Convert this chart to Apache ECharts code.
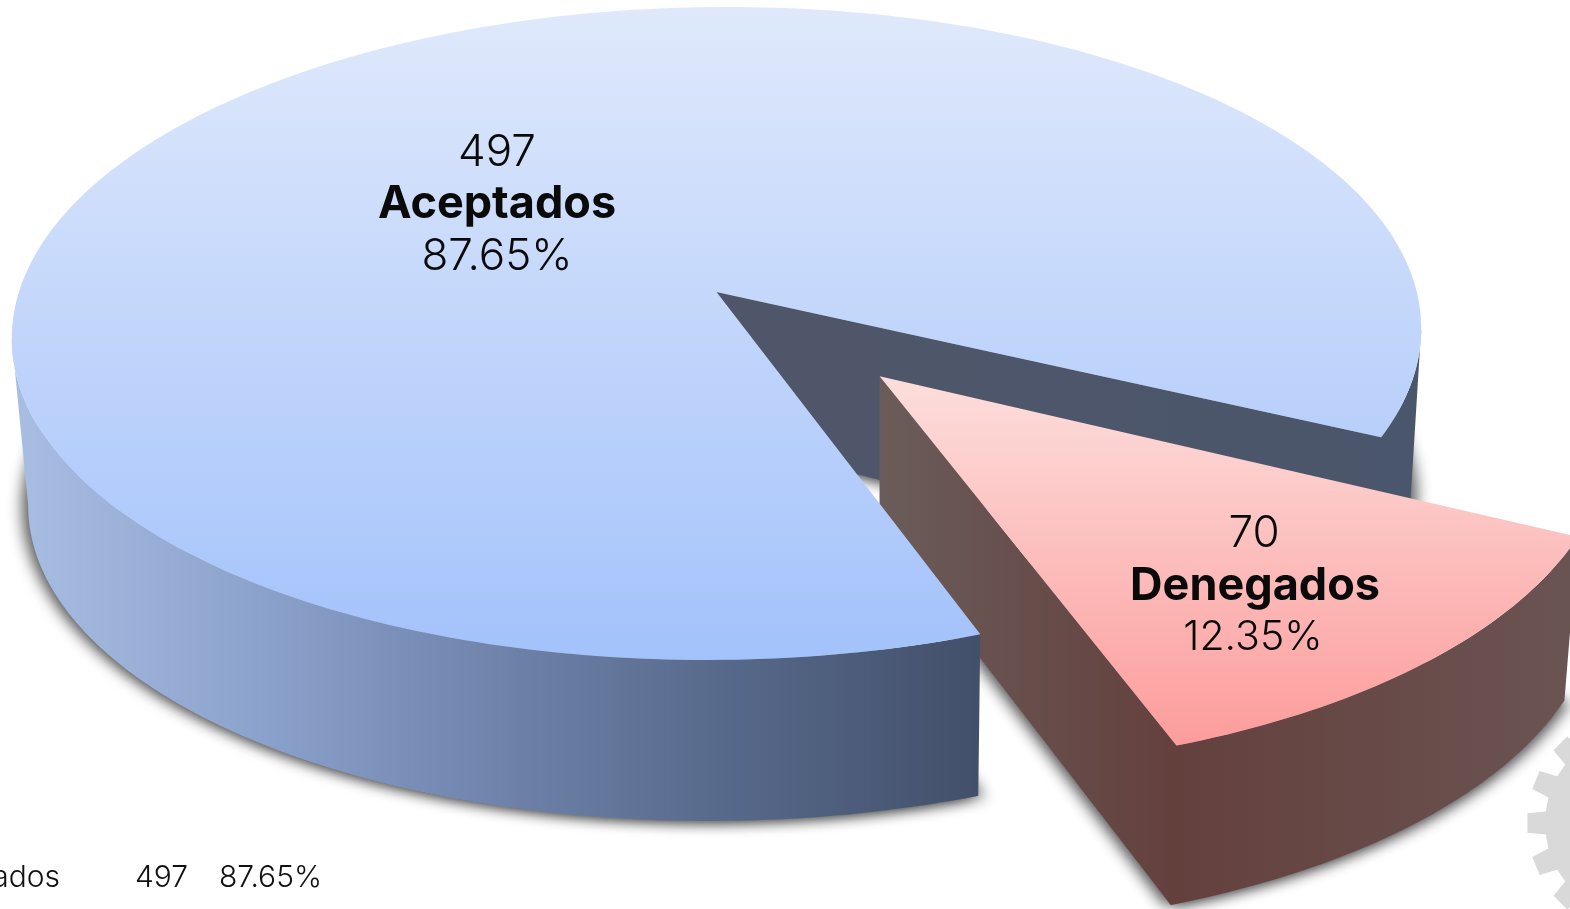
<!DOCTYPE html>
<html>
<head>
<meta charset="utf-8">
<style>
  html, body { margin: 0; padding: 0; background: #fff; overflow: hidden; }
  #chart { width: 1570px; height: 909px; }
</style>
</head>
<body>
<div id="chart"></div>
<script src="https://cdn.jsdelivr.net/npm/echarts@6/dist/echarts.min.js"></script>
<script>
const categories = ['Aceptados', 'Denegados']
const values = [497, 70]
const percents = ['87.65%', '12.35%']
const tableRow = ['Aceptados', '497', '87.65%']

const total = values.reduce((a, b) => a + b, 0)
const startAngle = 70.6 // degrees, clockwise from the right
const explode = [0, 0.34]
const tilt = [0.007, 0]
const tipLift = [20, 15]

// perspective of the tilted disc
const cx = 716.5, cy = 292
const persp = 0.127, sx = 699, sy = 321.2
const depth = 168, baseScale = 0.981, baseShift = 3
// where the rim turns back on screen, so the wall ends on the silhouette
const edgeAngle = Math.asin(persp) * 180 / Math.PI

function project (X, Z, bottom, k) {
  const w = 1 - persp * Z
  let px = sx * X / w
  let py = sy * Z / w - k * sx * X / w
  if (bottom) {
    px = px * baseScale + baseShift
    py = py * baseScale + depth
  }
  return [cx + px, cy + py]
}

function rimPoint (deg, off, bottom, k) {
  const r = deg * Math.PI / 180
  return project(Math.cos(r) + off[0], Math.sin(r) + off[1], bottom, k)
}

function arc (a0, a1, off, bottom, k) {
  const pts = []
  const n = Math.ceil(Math.abs(a1 - a0))
  for (let i = 0; i <= n; i++) {
    pts.push(rimPoint(a0 + (a1 - a0) * i / n, off, bottom, k))
  }
  return pts
}

function linear (x, y, x2, y2, stops) {
  return {
    type: 'linear', x, y, x2, y2, global: true,
    colorStops: stops.map(s => ({ offset: s[0], color: s[1] }))
  }
}

function poly (points, fill, z2, extra) {
  return {
    type: 'polygon',
    z2,
    shape: { points },
    style: Object.assign({ fill }, extra || {})
  }
}

function label (text, x, y, font) {
  return {
    type: 'text',
    z2: 50,
    style: { text, x, y, fill: '#0a0a0a', font, textAlign: 'center', textVerticalAlign: 'middle' }
  }
}

// the base face sits behind the walls, only its soft shadow shows
function baseShadow (points, z2) {
  const soft = { shadowBlur: 14, shadowColor: 'rgba(20,20,20,0.6)', shadowOffsetY: 1 }
  return [
    poly(points, '#8a8a8a', z2, Object.assign({ shadowOffsetX: -7 }, soft)),
    poly(points, '#8a8a8a', z2, Object.assign({ shadowOffsetX: 7 }, soft))
  ]
}

const thin = '300 44px Inter, "Noto Sans", sans-serif'
const thinSmall = '300 41px Inter, "Noto Sans", sans-serif'
const bold = '700 45px Inter, "Noto Sans", sans-serif'

function renderSlice (params, api) {
  const i = params.dataIndex
  const k = tilt[i]
  let a0 = startAngle
  for (let j = 0; j < i; j++) a0 += values[j] / total * 360
  const a1 = a0 + api.value(0) / total * 360
  const mid = (a0 + a1) / 2 * Math.PI / 180
  const off = [Math.cos(mid) * explode[i], Math.sin(mid) * explode[i]]
  const tipTop = project(off[0], off[1], false, k)
  const tipBase = project(off[0], off[1], true, k)
  tipBase[1] -= tipLift[i]
  const topFace = [tipTop].concat(arc(a0, a1, off, false, k))
  const baseFace = [tipBase].concat(arc(a0, a1, off, true, k))

  if (i === 0) {
    const rightEdge = 360 + edgeAngle
    const frontWall = arc(a0, 180 - edgeAngle, off, false, k).concat(arc(180 - edgeAngle, a0, off, true, k))
    const backWall = [tipTop].concat(arc(a1, rightEdge, off, false, k), arc(rightEdge, a1, off, true, k), [tipBase])
    return {
      type: 'group',
      children: baseShadow(baseFace, 1).concat([
        poly(backWall, linear(720, 0, 1420, 0, [[0, '#50566a'], [1, '#4a566b']]), 2),
        poly(frontWall, linear(20, 0, 975, 0, [
          [0, '#a8bde2'], [0.25, '#8ba2cc'], [0.5, '#6f83ab'], [0.75, '#566889'], [1, '#43506b']
        ]), 20),
        poly(topFace, linear(0, 7, 0, 660, [[0, '#e0e9fb'], [1, '#a3c2fb']]), 21),
        label(String(values[i]), 497, 153, thin),
        label(categories[i], 497, 204, bold),
        label(percents[i], 497, 257, thin)
      ])
    }
  }
  const brown = linear(880, 0, 1570, 0, [[0, '#6a5c5a'], [0.43, '#64403d'], [1, '#6a5452']])
  const sideWall = [tipTop].concat(arc(a1, a0, off, false, k), arc(a0, a1, off, true, k), [tipBase])
  return {
    type: 'group',
    children: baseShadow(baseFace, 5).concat([
      poly(sideWall, brown, 6),
      poly(topFace, linear(0, 376, 0, 743, [[0, '#fcdedc'], [1, '#fc9d9c']]), 7),
      label(String(values[i]), 1254, 534, thin),
      label(categories[i], 1255, 586, bold),
      label(percents[i], 1253, 638, thinSmall)
    ])
  }
}

// watermark gear cut by the right edge
function gearPoints (gx, gy, outer, inner, teeth) {
  const pts = []
  const step = Math.PI * 2 / teeth
  for (let t = 0; t < teeth; t++) {
    const a = Math.PI + t * step
    pts.push([gx + inner * Math.cos(a - step * 0.31), gy + inner * Math.sin(a - step * 0.31)])
    pts.push([gx + outer * Math.cos(a - step * 0.22), gy + outer * Math.sin(a - step * 0.22)])
    pts.push([gx + outer * Math.cos(a + step * 0.22), gy + outer * Math.sin(a + step * 0.22)])
    pts.push([gx + inner * Math.cos(a + step * 0.31), gy + inner * Math.sin(a + step * 0.31)])
  }
  return pts
}

const chart = echarts.init(document.getElementById('chart'))
const rowFont = '300 30px Inter, "Noto Sans", sans-serif'
chart.setOption({
  animation: false,
  backgroundColor: '#fff',
  graphic: [
    { type: 'polygon', z: 0, shape: { points: gearPoints(1640, 823, 113, 95, 16) }, style: { fill: '#d9d9d9' } },
    { type: 'text', z: 1, style: { text: tableRow[0], x: 60, y: 878, fill: '#111', font: rowFont, textAlign: 'right', textVerticalAlign: 'middle' } },
    { type: 'text', z: 1, style: { text: tableRow[1], x: 135, y: 878, fill: '#111', font: rowFont, textAlign: 'left', textVerticalAlign: 'middle' } },
    { type: 'text', z: 1, style: { text: tableRow[2], x: 219, y: 878, fill: '#111', font: rowFont, textAlign: 'left', textVerticalAlign: 'middle' } }
  ],
  series: [{
    type: 'custom',
    coordinateSystem: 'none',
    silent: true,
    clip: false,
    renderItem: renderSlice,
    data: values.map(v => [v])
  }]
})
</script>
</body>
</html>
